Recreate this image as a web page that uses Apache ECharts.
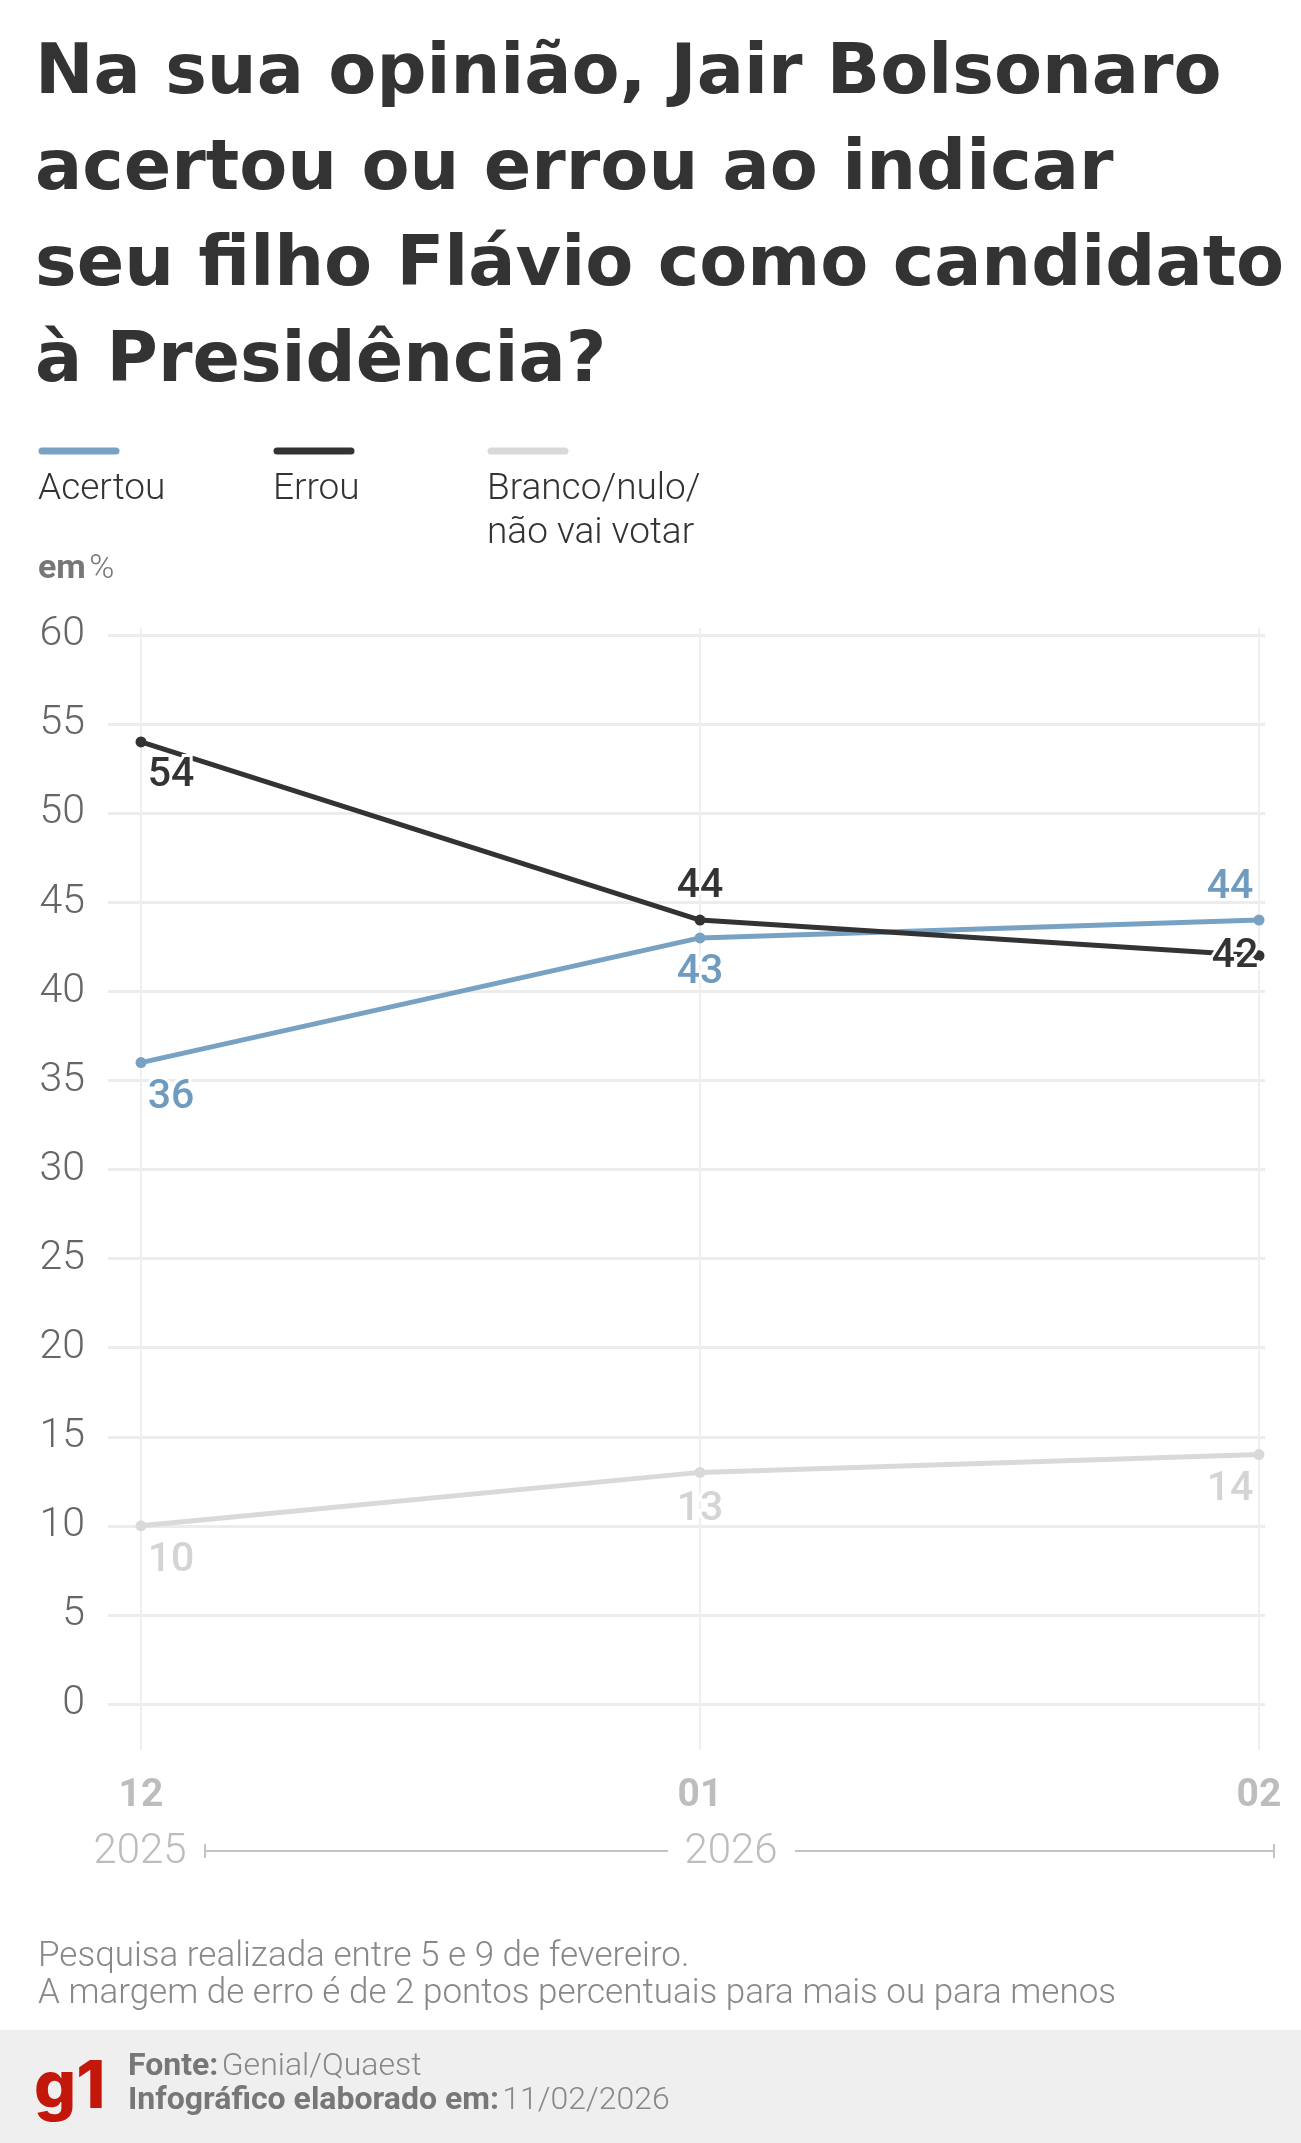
<!DOCTYPE html>
<html>
<head>
<meta charset="utf-8">
<script src="https://cdn.jsdelivr.net/npm/echarts@6/dist/echarts.min.js"></script>
<style>
html,body{margin:0;padding:0;background:#fff;}
#chart{width:1301px;height:2143px;}
</style>
</head>
<body>
<div id="chart"></div>
<script>
// ---- data ----
const months = ['12', '01', '02'];
const years = ['2025', '2026'];
const seriesNames = ['Acertou', 'Errou', 'Branco/nulo/\nnão vai votar'];
const acertou = [36, 43, 44];
const errou = [54, 44, 42];
const branco = [10, 13, 14];
const yTicks = [0, 60, 5]; // min, max, interval

const titleText = 'Na sua opinião, Jair Bolsonaro\nacertou ou errou ao indicar\nseu filho Flávio como candidato\nà Presidência?';
const noteText = 'Pesquisa realizada entre 5 e 9 de fevereiro.\nA margem de erro é de 2 pontos percentuais para mais ou para menos';
const sourceText = 'Genial/Quaest';
const dateText = '11/02/2026';

// ---- styles ----
const colors = ['#78a2c3', '#333333', '#d9d9d9'];
const labelColors = ['#6f9bbf', '#333333', '#d4d4d4'];
const labelOffsets = [
  [[30, 35], [0, 35], [-29, -32]],
  [[30, 34], [0, -33], [-24, 1]],
  [[30, 35], [0, 37], [-29, 35]]
];
const FONT = 'Roboto, "Noto Sans", sans-serif';

function buildData(values, si) {
  return values.map((v, i) => ({
    value: v,
    label: {
      show: true,
      position: 'inside',
      offset: labelOffsets[si][i],
      align: 'center',
      verticalAlign: 'middle',
      color: labelColors[si],
      fontFamily: FONT,
      fontWeight: 500,
      fontSize: 41,
      textBorderColor: '#fff',
      textBorderWidth: 6
    }
  }));
}

const allSeries = [acertou, errou, branco].map((vals, si) => ({
  name: seriesNames[si],
  type: 'line',
  xAxisIndex: 0,
  yAxisIndex: 0,
  data: buildData(vals, si),
  symbol: 'circle',
  symbolSize: 11,
  lineStyle: { color: colors[si], width: 5 },
  itemStyle: { color: colors[si] },
  animation: false
}));
allSeries[0].z = 11; allSeries[1].z = 12; allSeries[2].z = 10;

const chart = echarts.init(document.getElementById('chart'));

const legendX = [38, 273, 487];
const legendGraphics = [];
seriesNames.forEach((n, i) => {
  legendGraphics.push({
    type: 'line',
    shape: { x1: legendX[i] + 4, y1: 451, x2: legendX[i] + 78, y2: 451 },
    style: { stroke: colors[i], lineWidth: 7, lineCap: 'round' }
  });
  legendGraphics.push({
    type: 'text',
    x: legendX[i], y: 468,
    style: { text: n, fontFamily: FONT, fontWeight: 300, fontSize: 37, lineHeight: 44, fill: '#333', verticalAlign: 'top' }
  });
});

const option = {
  backgroundColor: '#fff',
  animation: false,
  grid: [
    { left: 141, right: 42, top: 635, height: 1069 },
    { left: 108, right: 36, top: 635, height: 1069 },
    { left: 141, right: 42, top: 628, height: 1122 }
  ],
  xAxis: [
    {
      gridIndex: 0, type: 'category', data: months, boundaryGap: false,
      axisLine: { show: false }, axisTick: { show: false }, splitLine: { show: false },
      axisLabel: { margin: 72, color: '#bdbdbd', fontFamily: FONT, fontWeight: 700, fontSize: 39, lineHeight: 40 }
    },
    {
      gridIndex: 1, type: 'category', data: months, boundaryGap: false, show: false
    },
    {
      gridIndex: 2, type: 'category', data: months, boundaryGap: false,
      axisLine: { show: false }, axisTick: { show: false }, axisLabel: { show: false },
      splitLine: { show: true, lineStyle: { color: '#efefef', width: 2 } }
    }
  ],
  yAxis: [
    {
      gridIndex: 0, type: 'value', min: yTicks[0], max: yTicks[1], interval: yTicks[2],
      axisLine: { show: false }, axisTick: { show: false }, splitLine: { show: false },
      axisLabel: { margin: 56, color: '#666', fontFamily: FONT, fontWeight: 300, fontSize: 41 }
    },
    {
      gridIndex: 1, type: 'value', min: yTicks[0], max: yTicks[1], interval: yTicks[2],
      axisLine: { show: false }, axisTick: { show: false }, axisLabel: { show: false },
      splitLine: { show: true, lineStyle: { color: '#ececec', width: 3 } }
    },
    {
      gridIndex: 2, type: 'value', min: 0, max: 1, show: false, splitLine: { show: false }
    }
  ],
  series: allSeries,
  graphic: [
    {
      type: 'text', x: 35, y: 27,
      style: { text: titleText, fontFamily: '"DejaVu Sans", sans-serif', fontWeight: 700, fontSize: 70, lineHeight: 96, fill: '#333', verticalAlign: 'top' }
    },
    ...legendGraphics,
    {
      type: 'text', x: 38, y: 569,
      style: {
        text: '{b|em} {r|%}',
        verticalAlign: 'middle',
        rich: {
          b: { fontFamily: FONT, fontWeight: 700, fontSize: 34, fill: '#777' },
          r: { fontFamily: FONT, fontWeight: 300, fontSize: 34, fill: '#777' }
        }
      }
    },
    // year bracket
    { type: 'text', x: 140, y: 1852, style: { text: years[0], align: 'center', verticalAlign: 'middle', fontFamily: FONT, fontWeight: 300, fontSize: 42, fill: '#bdbdbd' } },
    { type: 'text', x: 731, y: 1852, style: { text: years[1], align: 'center', verticalAlign: 'middle', fontFamily: FONT, fontWeight: 300, fontSize: 42, fill: '#bdbdbd' } },
    { type: 'line', shape: { x1: 205, y1: 1851, x2: 668, y2: 1851 }, style: { stroke: '#c4c4c4', lineWidth: 2 } },
    { type: 'line', shape: { x1: 205, y1: 1844, x2: 205, y2: 1858 }, style: { stroke: '#c4c4c4', lineWidth: 2 } },
    { type: 'line', shape: { x1: 795, y1: 1851, x2: 1274, y2: 1851 }, style: { stroke: '#c4c4c4', lineWidth: 2 } },
    { type: 'line', shape: { x1: 1274, y1: 1844, x2: 1274, y2: 1858 }, style: { stroke: '#c4c4c4', lineWidth: 2 } },
    // note
    {
      type: 'text', x: 38, y: 1939,
      style: { text: noteText, fontFamily: FONT, fontWeight: 300, fontSize: 35, lineHeight: 37, fill: '#888', verticalAlign: 'top' }
    },
    // footer
    { type: 'rect', shape: { x: 0, y: 2030, width: 1301, height: 113 }, style: { fill: '#efefef' }, z: -1 },
    {
      type: 'text', x: 34, y: 2088,
      style: { text: 'g1', fontFamily: 'Inter, sans-serif', fontWeight: 800, fontSize: 66, fill: '#c4170c', verticalAlign: 'middle' }
    },
    {
      type: 'text', x: 128, y: 2084,
      style: {
        text: '{b|Fonte:} {r|' + sourceText + '}\n{b|Infográfico elaborado em:} {r|' + dateText + '}',
        verticalAlign: 'middle',
        rich: {
          b: { fontFamily: FONT, fontWeight: 700, fontSize: 32, lineHeight: 34, fill: '#777' },
          r: { fontFamily: FONT, fontWeight: 300, fontSize: 32, lineHeight: 34, fill: '#888' }
        }
      }
    }
  ]
};
chart.setOption(option);
</script>
</body>
</html>
